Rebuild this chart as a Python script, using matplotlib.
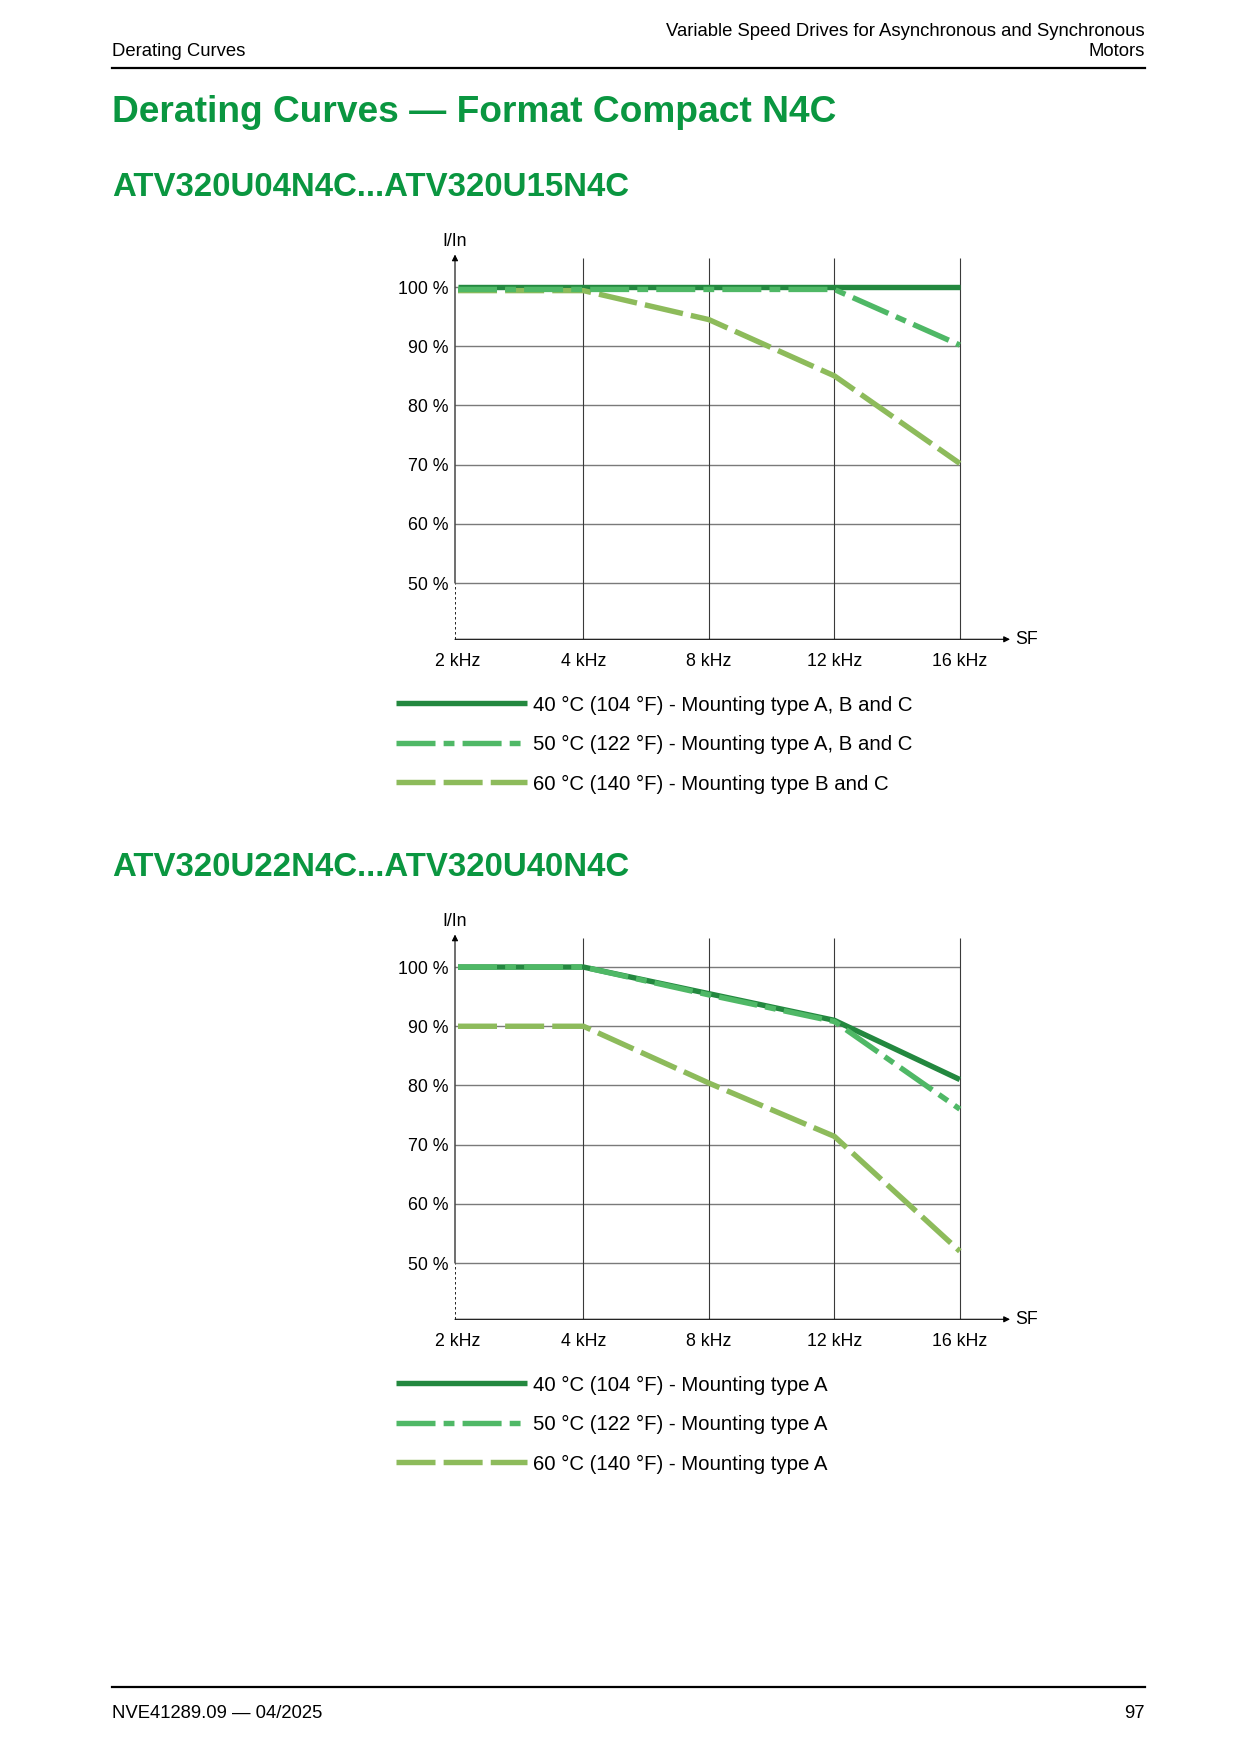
import matplotlib as mpl
import matplotlib.pyplot as plt

mpl.rcParams['font.family'] = ['Liberation Sans', 'DejaVu Sans']
mpl.rcParams['font.size'] = 12

# page size in pixels (dpi 100)
W, H = 1241, 1754

freq_labels = ['2 kHz', '4 kHz', '8 kHz', '12 kHz', '16 kHz']
freq_pos = [0, 1, 2, 3, 4]
pct_ticks = [50, 60, 70, 80, 90, 100]

# ATV320U04N4C...ATV320U15N4C
u04_40 = [100, 100, 100, 100, 100]
u04_50 = [99.6, 99.6, 99.6, 99.6, 90.2]
u04_60 = [99.4, 99.4, 94.5, 85.0, 70.2]
u04_labels = ['40 °C (104 °F) - Mounting type A, B and C',
              '50 °C (122 °F) - Mounting type A, B and C',
              '60 °C (140 °F) - Mounting type B and C']

# ATV320U22N4C...ATV320U40N4C
u22_40 = [100, 100, 95.5, 91.0, 81.0]
u22_50 = [100, 100, 95.3, 90.8, 76.0]
u22_60 = [90, 90, 80.4, 71.4, 52.0]
u22_labels = ['40 °C (104 °F) - Mounting type A',
              '50 °C (122 °F) - Mounting type A',
              '60 °C (140 °F) - Mounting type A']

green_title = '#0a9640'
c40 = '#23883f'
c50 = '#4fb866'
c60 = '#8dbb5b'
lw = 3.9

# axes limits
xmin, xmax = -0.024, 4.4
ymin, ymax = 40.5, 106


def fx(x):
    return x / W


def fy(y):
    return 1 - y / H


def plot_chart(fig, top_px, d40, d50, d60, labels):
    # axis box in pixels
    left, right = 455, 1010
    bottom = top_px + 393.3
    top = bottom - (ymax - ymin) * 5.92
    ax = fig.add_axes([fx(left), fy(bottom), fx(right - left), (bottom - top) / H])
    ax.set_xlim(xmin, xmax)
    ax.set_ylim(ymin, ymax)
    for s in ax.spines.values():
        s.set_visible(False)

    # grid
    ax.hlines(pct_ticks, xmin, 4, color='#7a7a7a', lw=1.0, zorder=1)
    ax.vlines(freq_pos[1:], ymin, 104.9, color='#3a3a3a', lw=0.8, zorder=1)

    # axes with arrows
    ax.annotate('', xy=(4.4, ymin), xytext=(xmin, ymin), annotation_clip=False,
                arrowprops=dict(arrowstyle='-|>', color='black', lw=0.8,
                                mutation_scale=9, shrinkA=0, shrinkB=0))
    ax.annotate('', xy=(xmin, 105.5), xytext=(xmin, 50), annotation_clip=False,
                arrowprops=dict(arrowstyle='-|>', color='black', lw=0.8,
                                mutation_scale=9, shrinkA=0, shrinkB=0))
    ax.plot([xmin, xmin], [ymin, 50], color='black', lw=0.6,
            linestyle=(0, (3, 3)), clip_on=False)

    # curves
    ax.plot(freq_pos, d40, color=c40, lw=lw, solid_capstyle='butt', zorder=3,
            label=labels[0])
    ax.plot(freq_pos, d60, color=c60, lw=lw, linestyle=(0, (7.2, 1.5)),
            zorder=4, label=labels[2])
    ax.plot(freq_pos, d50, color=c50, lw=lw,
            linestyle=(0, (7.2, 1.5, 2.0, 1.5)), zorder=5, label=labels[1])

    ax.set_xticks(freq_pos)
    ax.set_xticklabels(freq_labels)
    ax.set_yticks(pct_ticks)
    ax.set_yticklabels([f'{p} %' for p in pct_ticks])
    ax.tick_params(axis='both', length=0, labelsize=12.8)
    ax.tick_params(axis='x', pad=10)
    ax.tick_params(axis='y', pad=5)

    ax.text(xmin, 107.7, 'I/In', ha='center', va='center', fontsize=12.8,
            clip_on=False)
    ax.text(4.44, ymin, 'SF', ha='left', va='center', fontsize=12.8, clip_on=False)

    handles, labs = ax.get_legend_handles_labels()
    order = [0, 2, 1]
    fig.legend([handles[i] for i in order], [labs[i] for i in order],
               loc='upper left', bbox_to_anchor=(fx(396), fy(top_px + 449.5)),
               frameon=False, fontsize=14.7, handlelength=6.4,
               handletextpad=0.3, labelspacing=1.0, borderpad=0,
               borderaxespad=0)


fig = plt.figure(figsize=(W / 100, H / 100), dpi=100)

# page header
fig.text(fx(112), fy(52), 'Derating Curves', fontsize=13.3, ha='left', va='center')
fig.text(fx(1145), fy(31), 'Variable Speed Drives for Asynchronous and Synchronous',
         fontsize=13.3, ha='right', va='center')
fig.text(fx(1145), fy(52), 'Motors', fontsize=13.3, ha='right', va='center')
fig.add_artist(plt.Line2D([fx(112), fx(1145)], [fy(68), fy(68)], color='black', lw=1.6))

fig.text(fx(112), fy(112), 'Derating Curves — Format Compact N4C', fontsize=26.7,
         fontweight='bold', color=green_title, ha='left', va='center')
fig.text(fx(112), fy(187), 'ATV320U04N4C...ATV320U15N4C', fontsize=23.8,
         fontweight='bold', color=green_title, ha='left', va='center')
fig.text(fx(112), fy(867), 'ATV320U22N4C...ATV320U40N4C', fontsize=23.8,
         fontweight='bold', color=green_title, ha='left', va='center')

plot_chart(fig, 246, u04_40, u04_50, u04_60, u04_labels)
plot_chart(fig, 926, u22_40, u22_50, u22_60, u22_labels)

# footer
fig.add_artist(plt.Line2D([fx(112), fx(1145)], [fy(1687), fy(1687)], color='black', lw=1.6))
fig.text(fx(112), fy(1713), 'NVE41289.09 — 04/2025', fontsize=13.3, ha='left', va='center')
fig.text(fx(1145), fy(1713), '97', fontsize=13.3, ha='right', va='center')

fig.savefig('out.png', dpi=100)
